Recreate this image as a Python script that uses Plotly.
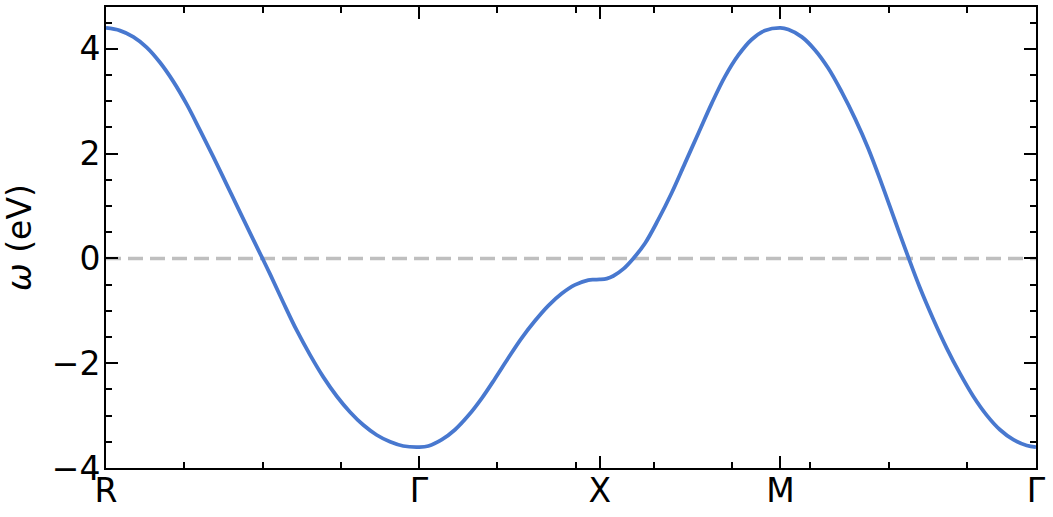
import math
import plotly.graph_objects as go

# High-symmetry path R - Γ - X - M - Γ (segment lengths in units of π/a)
labels = ["R", "Γ", "X", "M", "Γ"]
segment_lengths = [math.sqrt(3), 1.0, 1.0, math.sqrt(2)]

# Band values (path distance, energy in eV)
k_dist = [
    0.000, 0.0775, 0.151, 0.225, 0.299, 0.372, 0.447, 0.520, 0.594, 0.668,
    0.742, 0.815, 0.866, 0.908, 0.981, 1.055, 1.129, 1.202, 1.277, 1.350,
    1.424, 1.498, 1.572, 1.645, 1.732,
    1.784, 1.858, 1.931, 2.005, 2.079, 2.153, 2.226, 2.300, 2.374, 2.448,
    2.522, 2.595, 2.669, 2.700, 2.732,
    2.771, 2.807, 2.863, 2.918, 2.983, 3.056, 3.130, 3.204, 3.278, 3.352,
    3.425, 3.499, 3.573, 3.647, 3.732,
    3.776, 3.850, 3.923, 3.997, 4.071, 4.145, 4.218, 4.292, 4.366, 4.440,
    4.504, 4.578, 4.652, 4.726, 4.799, 4.873, 4.947, 5.021, 5.095, 5.146,
]
energy = [
    4.40, 4.35, 4.23, 4.03, 3.74, 3.38, 2.94, 2.45, 1.94, 1.41,
    0.88, 0.36, 0.00, -0.30, -0.84, -1.37, -1.84, -2.26, -2.63, -2.93,
    -3.18, -3.37, -3.50, -3.58, -3.60,
    -3.58, -3.46, -3.27, -3.00, -2.67, -2.29, -1.90, -1.52, -1.19, -0.90,
    -0.67, -0.505, -0.415, -0.404, -0.40,
    -0.384, -0.335, -0.20, 0.00, 0.29, 0.74, 1.25, 1.82, 2.39, 2.96,
    3.47, 3.88, 4.18, 4.35, 4.40,
    4.37, 4.23, 3.98, 3.63, 3.18, 2.67, 2.10, 1.43, 0.72, 0.02,
    -0.56, -1.16, -1.71, -2.20, -2.63, -2.99, -3.27, -3.46, -3.57, -3.60,
]
fermi_level = 0.0
y_range = [-4.0, 4.8]

nodes = [0.0]
for L in segment_lengths:
    nodes.append(nodes[-1] + L)

fig = go.Figure()
fig.add_trace(go.Scatter(
    x=[nodes[0], nodes[-1]], y=[fermi_level, fermi_level], mode="lines",
    line=dict(color="#bfbfbf", width=3.6, dash="15px,7px"), hoverinfo="skip",
))
fig.add_trace(go.Scatter(
    x=k_dist, y=energy, mode="lines",
    line=dict(color="#4878cf", width=3.8, shape="spline", smoothing=1.0),
))

font_family = "DejaVu Sans"
fig.update_layout(
    width=1053, height=517,
    margin=dict(l=106, r=17, t=7, b=49),
    paper_bgcolor="white", plot_bgcolor="white",
    showlegend=False,
    font=dict(family=font_family, size=33, color="black"),
)
eps = 1e-9
fig.update_xaxes(
    range=[nodes[0] - eps, nodes[-1] + eps],
    tickmode="array", tickvals=nodes, ticktext=labels,
    ticks="inside", ticklen=12, tickwidth=2, tickcolor="black",
    showline=True, linewidth=2, linecolor="black", mirror="ticks",
    showgrid=False, zeroline=False, ticklabelstandoff=-8, automargin=False,
    minor=dict(tickmode="linear", tick0=0, dtick=segment_lengths[0] / 4,
               ticks="inside", ticklen=6, tickwidth=2, tickcolor="black",
               showgrid=False),
)
fig.update_yaxes(
    range=y_range,
    tickmode="linear", tick0=0, dtick=2,
    ticks="inside", ticklen=12, tickwidth=2, tickcolor="black",
    showline=True, linewidth=2, linecolor="black", mirror="ticks",
    showgrid=False, zeroline=False, ticklabelstandoff=-3, automargin=False,
    minor=dict(tickmode="linear", tick0=0, dtick=0.5,
               ticks="inside", ticklen=6, tickwidth=2, tickcolor="black",
               showgrid=False),
    title=dict(text="<i>ω</i> (eV)", standoff=18,
               font=dict(family=font_family, size=33, color="black")),
)

fig.write_html(
    "out.html",
    config={"displayModeBar": False},
    post_script="document.body.style.margin='0px';document.body.style.overflow='hidden';",
)
